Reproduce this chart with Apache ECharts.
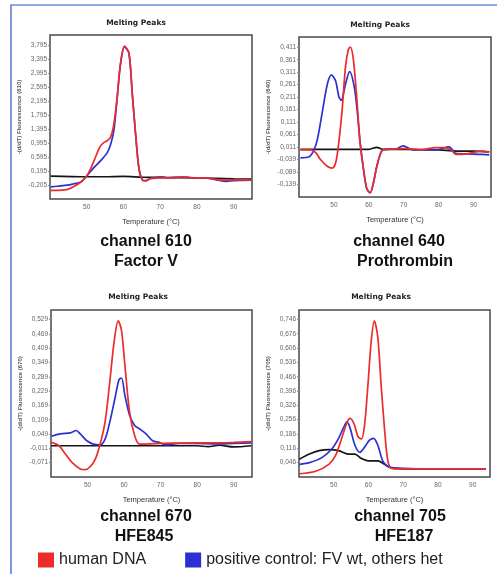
<!DOCTYPE html>
<html>
<head>
<meta charset="utf-8">
<script src="https://cdn.jsdelivr.net/npm/echarts@6/dist/echarts.min.js"></script>
<style>
  html, body { margin: 0; padding: 0; background: #fff; }
  #chart { width: 497px; height: 574px; }
</style>
</head>
<body>
<div id="chart"></div>
<script>
// melting peak curves (temperature in °C, -(d/dT) fluorescence)
var legendNames = ['human DNA', 'positive control: FV wt, others het'];
var xTicks = [50, 60, 70, 80, 90];

// channel 610 - Factor V
var c610RedT = [40.2, 42, 44.8, 46.5, 48.4, 50, 51, 52, 53, 53.8, 54.8, 55.6, 56.5, 57.4, 58.3, 59.2, 60.3, 61.5, 62.4, 63.3, 64.2, 65.1, 66, 67.4, 70.5, 73, 76.8, 79, 82.7, 85.4, 88, 90, 94.8];
var c610RedV = [-0.36, -0.36, -0.33, -0.25, -0.12, 0.05, 0.25, 0.49, 0.75, 0.92, 1.02, 1.06, 1.16, 1.55, 2.31, 3.27, 3.76, 3.56, 2.41, 1.26, 0.28, -0.06, -0.09, -0.02, 0.0, 0.0, 0.02, 0.0, 0.0, -0.05, -0.07, -0.06, -0.06];
var c610BlueT = [40.2, 42, 44.8, 46.5, 48.4, 50, 52, 53.8, 55.6, 56.5, 57.4, 58.3, 59.2, 60.3, 61.5, 62.4, 63.3, 64.2, 65.1, 66, 67.4, 69, 70.5, 72, 76.8, 79, 82.7, 85.4, 88, 90, 94.8];
var c610BlueV = [-0.26, -0.24, -0.21, -0.17, -0.12, 0.05, 0.3, 0.49, 0.72, 0.95, 1.36, 2.3, 3.25, 3.74, 3.55, 2.4, 1.25, 0.28, -0.05, -0.08, -0.02, 0.01, 0.03, 0.0, 0.02, 0.0, -0.01, -0.06, -0.1, -0.08, -0.07];
var c610BlackT = [40.2, 50, 55, 60, 65, 70, 80, 90, 94.8];
var c610BlackV = [0.05, 0.03, 0.03, 0.04, 0.02, 0.01, 0.0, -0.03, -0.04];

// channel 640 - Prothrombin
var c640RedT = [40.4, 43.4, 44.8, 46.2, 48.1, 49.5, 50.5, 51.4, 52.4, 53.3, 54.1, 54.7, 55.5, 56.4, 57.5, 58.5, 59.4, 60.4, 61.3, 62.3, 63.7, 65.1, 70, 75, 79.2, 81.5, 83.5, 85, 88, 92.5, 94.5];
var c640RedV = [0.0, 0.0, -0.011, -0.04, -0.066, -0.073, -0.052, 0.03, 0.167, 0.33, 0.4, 0.412, 0.37, 0.235, 0.03, -0.08, -0.155, -0.172, -0.134, -0.066, -0.004, 0.002, 0.005, 0.0, 0.009, 0.009, 0.0, -0.018, -0.016, -0.005, -0.01];
var c640BlueT = [40.4, 42.9, 44.3, 45.3, 46.7, 48.1, 49.3, 50.5, 51.4, 52.1, 53.3, 54.5, 55.7, 56.6, 57.5, 58.5, 59.4, 60.4, 61.3, 62.3, 63.7, 65.1, 68, 69.8, 72.6, 79.2, 83, 84.9, 88, 92.5, 94.5];
var c640BlueV = [-0.032, -0.028, 0.0, 0.044, 0.153, 0.262, 0.3, 0.276, 0.214, 0.198, 0.262, 0.313, 0.262, 0.167, 0.03, -0.08, -0.155, -0.172, -0.134, -0.066, -0.004, 0.002, 0.004, 0.016, 0.0, 0.0, 0.012, -0.014, -0.016, -0.018, -0.02];
var c640BlackT = [40.4, 50, 60, 62.3, 64, 70, 80, 85, 90, 94.5];
var c640BlackV = [0.002, 0.002, 0.002, 0.01, 0.002, 0.002, 0.0, -0.005, -0.005, -0.008];

// channel 670 - HFE845
var c670RedT = [40.1, 42.2, 44, 45.8, 48, 49.4, 50.7, 52.1, 53.4, 54.8, 56.1, 57.3, 58.4, 59.3, 60.2, 61.5, 62.9, 64.2, 66, 70, 75, 80, 85, 90, 94.8];
var c670RedV = [0.014, 0.0, -0.036, -0.071, -0.097, -0.1, -0.088, -0.057, 0.004, 0.1, 0.27, 0.44, 0.523, 0.483, 0.341, 0.142, 0.042, 0.007, 0.007, 0.01, 0.011, 0.012, 0.012, 0.014, 0.017];
var c670BlueT = [40.1, 42.6, 45.3, 46.9, 48, 49.8, 51.6, 53.4, 54.8, 56.1, 57.5, 58.6, 59.3, 60.2, 61.5, 62.9, 64.2, 66, 67.8, 69.6, 71.4, 75, 80, 85, 90, 94.8];
var c670BlueV = [0.04, 0.05, 0.054, 0.064, 0.05, 0.021, 0.007, 0.004, 0.028, 0.1, 0.199, 0.277, 0.284, 0.213, 0.128, 0.085, 0.071, 0.05, 0.021, 0.014, 0.004, 0.01, 0.01, 0.008, 0.01, 0.012];
var c670BlackT = [40.1, 50, 60, 70, 80, 83, 86, 90, 94.8];
var c670BlackV = [0.0, 0.0, 0.0, 0.0, 0.0, -0.004, 0.002, -0.005, 0.0];

// channel 705 - HFE187
var c705RedT = [40.1, 44.8, 48.6, 50.5, 52.3, 53.8, 54.7, 55.9, 57, 58, 58.9, 59.9, 60.8, 61.7, 62.7, 63.6, 64.6, 65.5, 66.4, 68.3, 75, 85, 93.8];
var c705RedV = [-0.008, 0.004, 0.038, 0.08, 0.165, 0.241, 0.262, 0.233, 0.173, 0.162, 0.233, 0.437, 0.641, 0.739, 0.658, 0.437, 0.216, 0.063, 0.021, 0.016, 0.016, 0.016, 0.016];
var c705BlueT = [40.1, 43, 46.7, 49.5, 51.4, 52.8, 53.8, 54.7, 56.1, 57.5, 58.9, 60.3, 61.5, 62.7, 64.1, 65.5, 67.4, 75, 85, 93.8];
var c705BlueV = [0.038, 0.046, 0.072, 0.114, 0.165, 0.216, 0.245, 0.216, 0.131, 0.097, 0.122, 0.156, 0.165, 0.131, 0.055, 0.029, 0.021, 0.016, 0.014, 0.016];
var c705BlackT = [40.1, 43, 45.8, 48.6, 51.4, 54.2, 56.1, 58, 59.9, 62.7, 64.6, 66.4, 70, 80, 93.8];
var c705BlackV = [0.063, 0.088, 0.105, 0.11, 0.105, 0.088, 0.088, 0.066, 0.055, 0.055, 0.038, 0.021, 0.016, 0.016, 0.016];

// y axis ticks: first labelled tick, step (min is one step below)
var yFirst = [-0.205, -0.139, -0.071, 0.046];
var yStep = [0.4, 0.05, 0.06, 0.07];
var yMax = [4.08, 0.452, 0.569, 0.792];
var yNames = ['-(d/dT) Fluorescence (610)', '-(d/dT) Fluorescence (640)', '-(d/dT) Fluorescence (670)', '-(d/dT) Fluorescence (705)'];

var RED = '#ec2b2b', BLUE = '#2c2fd2', BLACK = '#151515';
var grids = [
  {left: 50, top: 35, width: 202, height: 164},
  {left: 299, top: 37, width: 192, height: 160},
  {left: 51, top: 310, width: 201, height: 167},
  {left: 299, top: 310, width: 191, height: 167}
];

function pairs(t, v) {
  return t.map(function (x, i) { return [x, v[i]]; });
}
function line(name, t, v, color, idx) {
  return {
    type: 'line', name: name, xAxisIndex: idx, yAxisIndex: idx,
    data: pairs(t, v), showSymbol: false, smooth: 0.3,
    lineStyle: {color: color, width: 1.7}, itemStyle: {color: color},
    animation: false
  };
}

var curves = [
  [c610BlackT, c610BlackV, c610BlueT, c610BlueV, c610RedT, c610RedV],
  [c640BlackT, c640BlackV, c640BlueT, c640BlueV, c640RedT, c640RedV],
  [c670BlackT, c670BlackV, c670BlueT, c670BlueV, c670RedT, c670RedV],
  [c705BlackT, c705BlackV, c705BlueT, c705BlueV, c705RedT, c705RedV]
];

var series = [];
curves.forEach(function (c, i) {
  series.push(line('negative', c[0], c[1], BLACK, i));
  series.push(line(legendNames[1], c[2], c[3], BLUE, i));
  series.push(line(legendNames[0], c[4], c[5], RED, i));
});

var smallFont = '"Liberation Sans Narrow", "Liberation Sans", sans-serif';

var xAxes = grids.map(function (g, i) {
  return {
    type: 'value', gridIndex: i, min: 40, max: 95, interval: 10,
    name: 'Temperature (°C)', nameLocation: 'middle', nameGap: 19,
    nameTextStyle: {fontSize: 7.5, color: '#333', fontFamily: smallFont},
    axisLine: {show: false}, axisTick: {show: false}, splitLine: {show: false},
    axisLabel: {
      fontSize: 6.5, color: '#666', fontFamily: smallFont, margin: 5,
      showMinLabel: false, showMaxLabel: false,
      formatter: function (v) { return xTicks.indexOf(v) >= 0 ? String(v) : ''; }
    }
  };
});

var yAxes = grids.map(function (g, i) {
  return {
    type: 'value', gridIndex: i,
    min: +(yFirst[i] - yStep[i]).toFixed(3), max: yMax[i], interval: yStep[i],
    name: yNames[i], nameLocation: 'middle', nameGap: 28,
    nameTextStyle: {fontSize: 6, fontWeight: 'bold', color: '#555', fontFamily: smallFont},
    axisLine: {show: false},
    axisTick: {show: true, length: 2, lineStyle: {color: '#888'}},
    splitLine: {show: false},
    axisLabel: {
      fontSize: 6.5, color: '#666', fontFamily: smallFont, margin: 3,
      showMinLabel: false, showMaxLabel: false,
      formatter: function (v) { return v.toFixed(3).replace('.', ','); }
    }
  };
});

var titleFont = 'bold 7.5px "DejaVu Sans", sans-serif';
var capFont = 'bold 16px "Liberation Sans", Arial, sans-serif';
function txt(x, y, s, font, color) {
  return {type: 'text', x: x, y: y, silent: true,
    style: {text: s, font: font, fill: color || '#111', textAlign: 'center', textVerticalAlign: 'middle'}};
}

var option = {
  backgroundColor: '#fff',
  animation: false,
  grid: grids.map(function (g) {
    return {left: g.left, top: g.top, width: g.width, height: g.height,
      show: true, borderColor: '#4a4a4a', borderWidth: 1.5, backgroundColor: '#fff'};
  }),
  xAxis: xAxes,
  yAxis: yAxes,
  legend: {
    left: 38, top: 552, padding: 0, itemWidth: 16, itemHeight: 15, itemGap: 39,
    icon: 'rect', selectedMode: false, data: legendNames,
    textStyle: {fontSize: 16, color: '#222', fontFamily: '"Liberation Sans", Arial, sans-serif'}
  },
  graphic: [
    {type: 'polyline', silent: true,
      shape: {points: [[11, 574], [11, 5], [497, 5]]},
      style: {stroke: '#2a52c9', lineWidth: 1.2, fill: null}},
    txt(136, 23, 'Melting Peaks', titleFont, '#222'),
    txt(380, 25, 'Melting Peaks', titleFont, '#222'),
    txt(138, 297, 'Melting Peaks', titleFont, '#222'),
    txt(381, 297, 'Melting Peaks', titleFont, '#222'),
    txt(146, 242, 'channel 610', capFont),
    txt(146, 262, 'Factor V', capFont),
    txt(399, 242, 'channel 640', capFont),
    txt(405, 262, 'Prothrombin', capFont),
    txt(146, 517, 'channel 670', capFont),
    txt(144, 537, 'HFE845', capFont),
    txt(400, 517, 'channel 705', capFont),
    txt(404, 537, 'HFE187', capFont)
  ],
  series: series
};

var myChart = echarts.init(document.getElementById('chart'));
myChart.setOption(option);
</script>
</body>
</html>
